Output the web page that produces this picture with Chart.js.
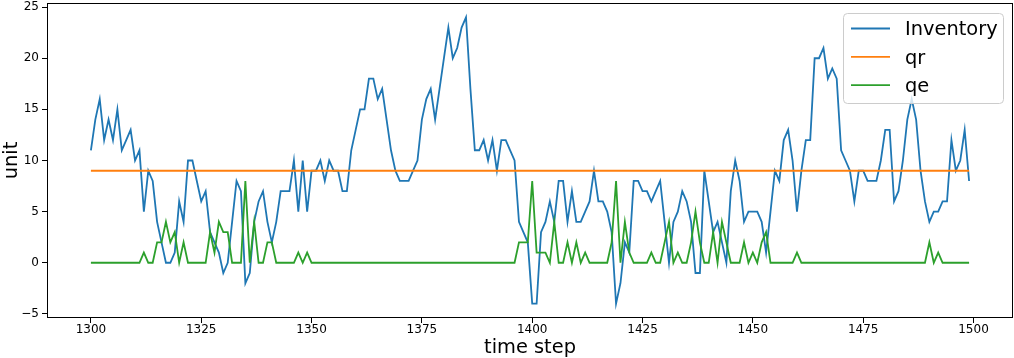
<!DOCTYPE html>
<html>
<head>
<meta charset="utf-8">
<script src="https://cdn.jsdelivr.net/npm/chart.js@4/dist/chart.umd.min.js"></script>
<style>
  html, body { margin: 0; padding: 0; background: #fff; }
  canvas { display: block; }
</style>
</head>
<body>
<canvas id="myChart" width="1014" height="358"></canvas>
<script>
// first time step, the series below are one value per step
const startStep = 1300;

const inventory = [
  11, 14, 16, 12, 14, 12, 15, 11, 12, 13, 10, 11, 5, 9, 8, 4, 2, 0, 0, 1, 6, 4, 10, 10, 8,
  6, 7, 3, 2, 1, -1, 0, 4, 8, 7, -2, -1, 4, 6, 7, 4, 2, 4, 7, 7, 7, 10, 5, 10, 5,
  9, 9, 10, 8, 10, 9, 9, 7, 7, 11, 13, 15, 15, 18, 18, 16, 17, 14, 11, 9, 8, 8, 8, 9, 10,
  14, 16, 17, 14, 17, 20, 23, 20, 21, 23, 24, 17, 11, 11, 12, 10, 12, 9, 12, 12, 11, 10, 4, 3, 2,
  -4, -4, 3, 4, 6, 4, 8, 8, 4, 7, 4, 4, 5, 6, 9, 6, 6, 5, 3, -4, -2, 2, 1, 8, 8,
  7, 7, 6, 7, 8, 4, 0, 4, 5, 7, 6, 4, -1, -1, 9, 6, 3, 4, 2, 0, 7, 10, 8, 4, 5,
  5, 5, 4, 1, 5, 9, 8, 12, 13, 10, 5, 9, 12, 12, 20, 20, 21, 18, 19, 18, 11, 10, 9, 6, 9,
  9, 8, 8, 8, 10, 13, 13, 6, 7, 10, 14, 16, 14, 9, 6, 4, 5, 5, 6, 6, 12, 9, 10, 13, 8
];

const qr = [
  9, 9, 9, 9, 9, 9, 9, 9, 9, 9, 9, 9, 9, 9, 9, 9, 9, 9, 9, 9, 9, 9, 9, 9, 9,
  9, 9, 9, 9, 9, 9, 9, 9, 9, 9, 9, 9, 9, 9, 9, 9, 9, 9, 9, 9, 9, 9, 9, 9, 9,
  9, 9, 9, 9, 9, 9, 9, 9, 9, 9, 9, 9, 9, 9, 9, 9, 9, 9, 9, 9, 9, 9, 9, 9, 9,
  9, 9, 9, 9, 9, 9, 9, 9, 9, 9, 9, 9, 9, 9, 9, 9, 9, 9, 9, 9, 9, 9, 9, 9, 9,
  9, 9, 9, 9, 9, 9, 9, 9, 9, 9, 9, 9, 9, 9, 9, 9, 9, 9, 9, 9, 9, 9, 9, 9, 9,
  9, 9, 9, 9, 9, 9, 9, 9, 9, 9, 9, 9, 9, 9, 9, 9, 9, 9, 9, 9, 9, 9, 9, 9, 9,
  9, 9, 9, 9, 9, 9, 9, 9, 9, 9, 9, 9, 9, 9, 9, 9, 9, 9, 9, 9, 9, 9, 9, 9, 9,
  9, 9, 9, 9, 9, 9, 9, 9, 9, 9, 9, 9, 9, 9, 9, 9, 9, 9, 9, 9, 9, 9, 9, 9, 9
];

const qe = [
  0, 0, 0, 0, 0, 0, 0, 0, 0, 0, 0, 0, 1, 0, 0, 2, 2, 4, 2, 3, 0, 2, 0, 0, 0,
  0, 0, 3, 1, 4, 3, 3, 0, 0, 0, 8, 0, 4, 0, 0, 2, 2, 0, 0, 0, 0, 0, 1, 0, 1,
  0, 0, 0, 0, 0, 0, 0, 0, 0, 0, 0, 0, 0, 0, 0, 0, 0, 0, 0, 0, 0, 0, 0, 0, 0,
  0, 0, 0, 0, 0, 0, 0, 0, 0, 0, 0, 0, 0, 0, 0, 0, 0, 0, 0, 0, 0, 0, 2, 2, 2,
  8, 1, 1, 1, 0, 4, 0, 0, 2, 0, 2, 0, 1, 0, 0, 0, 0, 0, 2, 8, 0, 4, 1, 0, 0,
  0, 0, 1, 0, 0, 2, 4, 0, 1, 0, 0, 2, 5, 2, 0, 0, 3, 0, 4, 2, 0, 0, 0, 2, 0,
  1, 0, 2, 3, 0, 0, 0, 0, 0, 0, 1, 0, 0, 0, 0, 0, 0, 0, 0, 0, 0, 0, 0, 0, 0,
  0, 0, 0, 0, 0, 0, 0, 0, 0, 0, 0, 0, 0, 0, 0, 2, 0, 1, 0, 0, 0, 0, 0, 0, 0
];

const xTicks = [1300, 1325, 1350, 1375, 1400, 1425, 1450, 1475, 1500];
const yTicks = [-5, 0, 5, 10, 15, 20, 25];

const toPoints = (arr) => arr.map((v, i) => ({ x: startStep + i, y: v }));

const FONT = '"DejaVu Sans", "Liberation Sans", sans-serif';

// matplotlib style full box + legend in the top right corner
const boxAndLegend = {
  id: "boxAndLegend",
  afterDatasetsDraw(chart) {
    const { ctx, chartArea: a } = chart;
    ctx.save();
    ctx.strokeStyle = "#000";
    ctx.lineWidth = 1;
    ctx.strokeRect(a.left + 0.5, a.top + 0.5, a.right - a.left - 1, a.bottom - a.top - 1);

    const bx = a.right - 169.5, by = a.top + 10.5, bw = 160, bh = 90;
    ctx.beginPath();
    ctx.roundRect(bx, by, bw, bh, 4);
    ctx.fillStyle = "rgba(255,255,255,0.8)";
    ctx.fill();
    ctx.strokeStyle = "#cccccc";
    ctx.stroke();

    ctx.font = "19.4px " + FONT;
    ctx.textBaseline = "alphabetic";
    chart.data.datasets.forEach((ds, i) => {
      const ly = by + 15 + i * 28.35;
      ctx.strokeStyle = ds.borderColor;
      ctx.lineWidth = 1.8;
      ctx.beginPath();
      ctx.moveTo(bx + 7.5, ly);
      ctx.lineTo(bx + 46.5, ly);
      ctx.stroke();
      ctx.fillStyle = "#000";
      ctx.fillText(ds.label, bx + 61.5, ly + 6.7);
    });
    ctx.restore();
  },
};

const ctx = document.getElementById("myChart").getContext("2d");
new Chart(ctx, {
  type: "line",
  data: {
    datasets: [
      { label: "Inventory", data: toPoints(inventory), borderColor: "#1f77b4", order: 2 },
      { label: "qr", data: toPoints(qr), borderColor: "#ff7f0e", order: 1 },
      { label: "qe", data: toPoints(qe), borderColor: "#2ca02c", order: 0 },
    ],
  },
  options: {
    responsive: false,
    animation: false,
    devicePixelRatio: 1,
    layout: { padding: { top: 3, right: 1, left: 0, bottom: 0 } },
    elements: {
      point: { radius: 0 },
      line: { borderWidth: 1.8, tension: 0, fill: false },
    },
    plugins: {
      legend: { display: false },
      tooltip: { enabled: false },
    },
    scales: {
      x: {
        type: "linear",
        min: 1290.05,
        max: 1508.95,
        afterBuildTicks: (axis) => { axis.ticks = xTicks.map((v) => ({ value: v })); },
        afterFit: (scale) => {
          scale.height = 40;
          scale.paddingLeft = 0;
          scale.paddingRight = 0;
        },
        ticks: {
          callback: (v) => String(v),
          font: { family: FONT, size: 12 },
          color: "#000",
          padding: 0,
          maxRotation: 0,
        },
        grid: { drawOnChartArea: false, drawTicks: true, tickLength: 5, tickColor: "#000", tickWidth: 1 },
        border: { display: false },
        title: {
          display: true,
          text: "time step",
          font: { family: FONT, size: 19.4, lineHeight: 1.0 },
          color: "#000",
          padding: { top: 0, bottom: 0 },
        },
      },
      y: {
        type: "linear",
        min: -5.4,
        max: 25.4,
        afterBuildTicks: (axis) => { axis.ticks = yTicks.map((v) => ({ value: v })); },
        afterFit: (scale) => {
          scale.width = 47;
          scale.paddingTop = 0;
          scale.paddingBottom = 0;
        },
        ticks: {
          callback: (v) => String(v).replace("-", "\u2212"),
          font: { family: FONT, size: 12 },
          color: "#000",
          padding: 3,
        },
        grid: { drawOnChartArea: false, drawTicks: true, tickLength: 5, tickColor: "#000", tickWidth: 1 },
        border: { display: false },
        title: {
          display: true,
          text: "unit",
          font: { family: FONT, size: 19.4 },
          color: "#000",
          padding: { top: 0, bottom: 0 },
        },
      },
    },
  },
  plugins: [boxAndLegend],
});
</script>
</body>
</html>
